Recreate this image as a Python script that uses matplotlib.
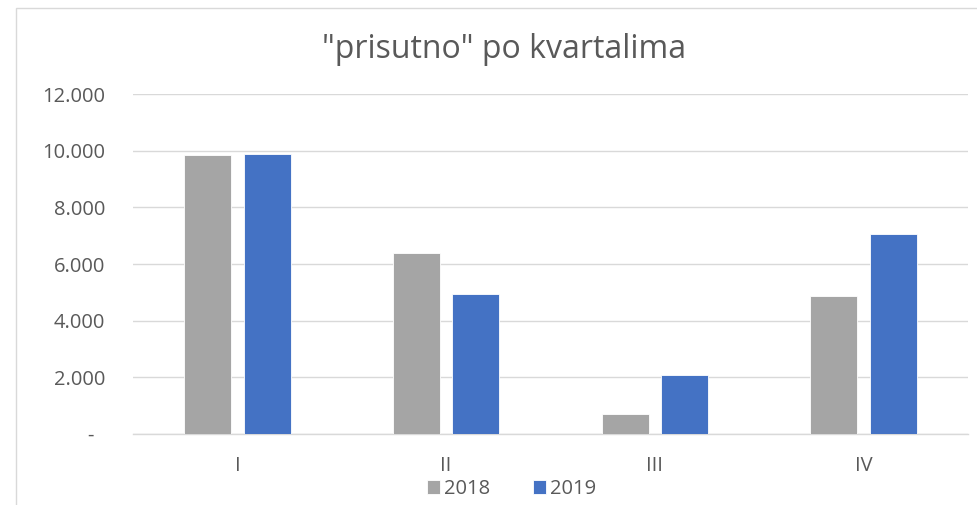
import matplotlib
matplotlib.use("Agg")
import matplotlib.pyplot as plt
import numpy as np
from matplotlib.patches import Rectangle

categories = ["I", "II", "III", "IV"]
series_names = ["2018", "2019"]
values_2018 = [9840, 6380, 710, 4870]
values_2019 = [9880, 4950, 2080, 7050]
yticks = [0, 2000, 4000, 6000, 8000, 10000, 12000]
ytick_labels = ["-  ", "2.000", "4.000", "6.000", "8.000", "10.000", "12.000"]

plt.rcParams['font.family'] = ['Open Sans', 'DejaVu Sans']
txt = "#595959"
fs = 14.5

fig = plt.figure(figsize=(9.78, 5.05), dpi=100)
# chart border
fig.patches.append(Rectangle((16/978, -0.1), 1.1, (505-8)/505 + 0.1, transform=fig.transFigure,
                             fill=False, edgecolor="#D9D9D9", linewidth=1.0))
ax = fig.add_axes([133/978, 1-433.7/505, (968-133)/978, (433.7-94.3)/505])

x = np.arange(len(categories))
w = 0.225
off = 0.143
ax.bar(x - off, values_2018, w, color="#A5A5A5", edgecolor="white", linewidth=0.6, label=series_names[0], zorder=3)
ax.bar(x + off, values_2019, w, color="#4472C4", edgecolor="white", linewidth=0.6, label=series_names[1], zorder=3)

ax.set_xlim(-0.5, 3.5)
ax.set_ylim(0, 12000)
ax.set_yticks(yticks)
ax.set_yticklabels(ytick_labels, color=txt, fontsize=fs)
ax.set_xticks(x)
ax.set_xticklabels(categories, color=txt, fontsize=fs)
ax.tick_params(axis='both', length=0)
ax.tick_params(axis='x', pad=16)
ax.tick_params(axis='y', pad=20)
ax.yaxis.grid(True, color="#D9D9D9", linewidth=1.0, zorder=0)
for s in ["top", "right", "left"]:
    ax.spines[s].set_visible(False)
ax.spines["bottom"].set_color("#D9D9D9")
ax.spines["bottom"].set_linewidth(1.0)

fig.text(504/978, 1-50/505, '"prisutno" po kvartalima', ha="center", va="center", fontsize=23, color=txt)

leg = fig.legend(loc="center", bbox_to_anchor=(511.5/978, 1-489/505), ncol=2, frameon=False,
                 fontsize=fs, handlelength=0.68, handleheight=0.68, columnspacing=2.1, handletextpad=0.2,
                 borderpad=0, borderaxespad=0)
for t in leg.get_texts():
    t.set_color(txt)

fig.savefig("out.png", dpi=100)
